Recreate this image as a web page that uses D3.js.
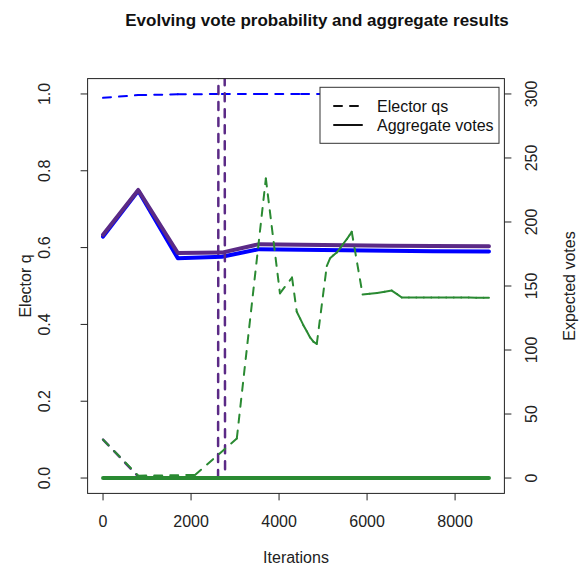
<!DOCTYPE html>
<html>
<head>
<meta charset="utf-8">
<script src="https://cdn.jsdelivr.net/npm/d3@7"></script>
<style>
  html, body { margin: 0; padding: 0; background: #fff; }
  svg { display: block; font-family: "Liberation Sans", Arial, Helvetica, sans-serif; }
</style>
</head>
<body>
<svg id="chart" width="585" height="568"></svg>
<script>
// ---- data -------------------------------------------------------------
// Elector q per party (left axis)
const qBlueIter   = [0, 800, 1700, 2700, 3550, 4500, 5500, 6500, 7500, 8770];
const qBlue       = [0.990, 0.997, 0.999, 1.0, 1.0, 1.0, 1.0, 1.0, 1.0, 1.0];

const qPurpleIter = [0, 800, 1700, 2614, 2694, 2773, 3550, 4500, 5500, 6500, 7500, 8770];
const qPurple     = [0.100, 0.004, 0.002, 0.0, 10.0, 0.0, 0.0, 0.0, 0.0, 0.0, 0.0, 0.0];

const qGreenIter  = [0, 800, 2090, 3040, 3700, 4020, 4295, 4402, 4480, 4552, 4630, 4705,
                     4780, 4857, 5084, 5159, 5235, 5311, 5386, 5460, 5540, 5600, 5652,
                     5898, 6060, 6230, 6400, 6561, 6680, 6789, 6950, 7120, 7290, 7460,
                     7630, 7800, 7970, 8140, 8310, 8480, 8650, 8770];
const qGreen      = [0.100, 0.006, 0.008, 0.103, 0.780, 0.481, 0.522, 0.433, 0.415, 0.398, 0.382, 0.366,
                     0.355, 0.349, 0.552, 0.572, 0.580, 0.587, 0.598, 0.610, 0.622, 0.632, 0.641,
                     0.478, 0.480, 0.482, 0.485, 0.488, 0.479, 0.470, 0.470, 0.470, 0.470, 0.470,
                     0.470, 0.470, 0.470, 0.470, 0.470, 0.4695, 0.4695, 0.4695];

// Aggregate expected votes per party (right axis)
const voteIter    = [0, 800, 1700, 2700, 3550, 4500, 5500, 6500, 7500, 8770];
const votesBlue   = [188.6, 224.4, 171.6, 172.8, 178.8, 178.3, 177.9, 177.5, 177.2, 177.0];
const votesPurple = [190.0, 225.0, 175.8, 176.1, 182.7, 182.2, 181.8, 181.5, 181.2, 181.0];
const votesGreen  = [0, 0, 0, 0, 0, 0, 0, 0, 0, 0];

const xTicks     = [0, 2000, 4000, 6000, 8000];
const qTicks     = [0, 0.2, 0.4, 0.6, 0.8, 1.0];
const voteTicks  = [0, 50, 100, 150, 200, 250, 300];
const legendKeys = ["Elector qs", "Aggregate votes"];

const colBlue = "#0000ff", colPurple = "#5b2a86", colGreen = "#2a8a32";

// ---- layout -----------------------------------------------------------
const svg = d3.select("#chart");
const box = { left: 87.6, right: 504.4, top: 78.6, bottom: 493.4 };
const xMax = 8770;

const x = d3.scaleLinear().domain([-0.04 * xMax, 1.04 * xMax]).range([box.left, box.right]);
const yQ = d3.scaleLinear().domain([-0.04, 1.04]).range([box.bottom, box.top]);
const yV = d3.scaleLinear().domain([-12, 312]).range([box.bottom, box.top]);

svg.append("defs").append("clipPath").attr("id", "plotClip")
  .append("rect")
  .attr("x", box.left).attr("y", box.top)
  .attr("width", box.right - box.left).attr("height", box.bottom - box.top);

const plot = svg.append("g").attr("clip-path", "url(#plotClip)");

// dashed series: each segment carries its own dash pattern, so short
// segments render as solid strokes
function dashedSeries(iters, vals, yScale, color, width) {
  const pts = iters.map((it, i) => [x(it), yScale(vals[i])]);
  const segs = d3.pairs(pts);
  plot.append("g").selectAll("line").data(segs).join("line")
    .attr("x1", d => d[0][0]).attr("y1", d => d[0][1])
    .attr("x2", d => d[1][0]).attr("y2", d => d[1][1])
    .attr("stroke", color).attr("stroke-width", width)
    .attr("stroke-dasharray", "8,8").attr("stroke-linecap", "round")
    .attr("fill", "none");
}
function solidSeries(iters, vals, yScale, color, width) {
  const line = d3.line().x((d, i) => x(iters[i])).y(d => yScale(d));
  plot.append("path").datum(vals)
    .attr("d", line)
    .attr("fill", "none").attr("stroke", color).attr("stroke-width", width)
    .attr("stroke-linejoin", "round").attr("stroke-linecap", "round");
}

dashedSeries(qBlueIter, qBlue, yQ, colBlue, 2);
solidSeries(voteIter, votesBlue, yV, colBlue, 4);
dashedSeries(qPurpleIter, qPurple, yQ, colPurple, 2.5);
solidSeries(voteIter, votesPurple, yV, colPurple, 4);
dashedSeries(qGreenIter, qGreen, yQ, colGreen, 2);
solidSeries(voteIter, votesGreen, yV, colGreen, 4);

// ---- frame and axes ---------------------------------------------------
svg.append("rect")
  .attr("x", box.left).attr("y", box.top)
  .attr("width", box.right - box.left).attr("height", box.bottom - box.top)
  .attr("fill", "none").attr("stroke", "#222").attr("stroke-width", 1);

const tickLen = 7, fs = 16;

const gx = svg.append("g");
gx.selectAll("line").data(xTicks).join("line")
  .attr("x1", d => x(d)).attr("x2", d => x(d))
  .attr("y1", box.bottom).attr("y2", box.bottom + tickLen)
  .attr("stroke", "#222");
gx.selectAll("text").data(xTicks).join("text")
  .attr("x", d => x(d)).attr("y", 527)
  .attr("text-anchor", "middle").attr("font-size", fs).attr("fill", "#222")
  .text(d => d);

const gyl = svg.append("g");
gyl.selectAll("line").data(qTicks).join("line")
  .attr("x1", box.left - tickLen).attr("x2", box.left)
  .attr("y1", d => yQ(d)).attr("y2", d => yQ(d))
  .attr("stroke", "#222");
gyl.selectAll("text").data(qTicks).join("text")
  .attr("transform", d => `translate(50,${yQ(d)}) rotate(-90)`)
  .attr("text-anchor", "middle").attr("font-size", fs).attr("fill", "#222")
  .text(d => d3.format(".1f")(d));

const gyr = svg.append("g");
gyr.selectAll("line").data(voteTicks).join("line")
  .attr("x1", box.right).attr("x2", box.right + tickLen)
  .attr("y1", d => yV(d)).attr("y2", d => yV(d))
  .attr("stroke", "#222");
gyr.selectAll("text").data(voteTicks).join("text")
  .attr("transform", d => `translate(537,${yV(d)}) rotate(-90)`)
  .attr("text-anchor", "middle").attr("font-size", fs).attr("fill", "#222")
  .text(d => d);

// titles
svg.append("text").attr("x", 317).attr("y", 26)
  .attr("text-anchor", "middle").attr("font-size", 17).attr("font-weight", "bold")
  .attr("fill", "#111").text("Evolving vote probability and aggregate results");
svg.append("text").attr("x", (box.left + box.right) / 2).attr("y", 563)
  .attr("text-anchor", "middle").attr("font-size", fs).attr("fill", "#222")
  .text("Iterations");
svg.append("text").attr("transform", `translate(31,${(box.top + box.bottom) / 2}) rotate(-90)`)
  .attr("text-anchor", "middle").attr("font-size", fs).attr("fill", "#222")
  .text("Elector q");
svg.append("text").attr("transform", `translate(575,${(box.top + box.bottom) / 2}) rotate(-90)`)
  .attr("text-anchor", "middle").attr("font-size", fs).attr("fill", "#222")
  .text("Expected votes");

// ---- legend -----------------------------------------------------------
const lg = svg.append("g");
lg.append("rect").attr("x", 320).attr("y", 87.3).attr("width", 179).attr("height", 56)
  .attr("fill", "#fff").attr("stroke", "#333").attr("stroke-width", 1);
const legendRows = lg.selectAll("g.row").data(legendKeys).join("g")
  .attr("class", "row")
  .attr("transform", (d, i) => `translate(0,${106 + i * 19})`);
legendRows.append("line")
  .attr("x1", 334).attr("x2", 362).attr("y1", 0).attr("y2", 0)
  .attr("stroke", "#111").attr("stroke-width", 2).attr("stroke-linecap", "round")
  .attr("stroke-dasharray", (d, i) => i === 0 ? "8,8" : null);
legendRows.append("text")
  .attr("x", 377).attr("y", 5.5)
  .attr("font-size", fs).attr("fill", "#111")
  .text(d => d);
</script>
</body>
</html>
